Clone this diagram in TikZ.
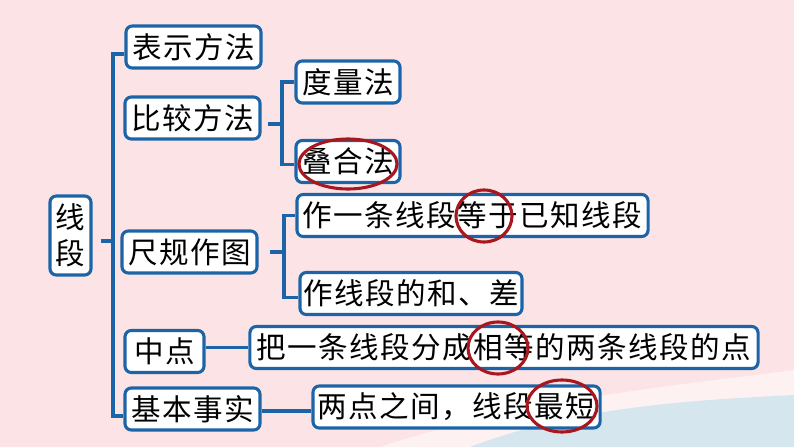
\documentclass[tikz,border=0pt]{standalone}
\usepackage{fontspec}
\newfontfamily\cjk[LetterSpace=5]{Noto Sans CJK SC}
\usepackage{tikz}
\usetikzlibrary{calc}
\definecolor{Paper}   {RGB}{252, 228, 230}
\definecolor{Sea}     {RGB}{214, 230, 238}
\definecolor{Edge}    {RGB}{ 28, 100, 168}
\definecolor{Crimson} {RGB}{168,  22,  30}

\begin{document}
\begin{tikzpicture}[x=0.025cm, y=-0.025cm,
  box/.style  = {draw=Edge, fill=white, line width=2.2pt,
                 rounded corners=4.5pt, inner sep=1pt,
                 minimum height=1.05cm,
                 font=\cjk\fontsize{21pt}{26pt}\selectfont},
  link/.style = {draw=Edge, line width=2.2pt},
  ring/.style = {draw=Crimson, line width=2.2pt}
]
  %% background
  \fill[Paper] (0,0) rectangle (794,447);
  \fill[white, opacity=0.5]
    (380,447) .. controls (520,400) and (680,385) .. (794,370)
    -- (794,447) -- cycle;
  \fill[Sea]
    (470,447) .. controls (580,405) and (700,400) .. (794,395)
    -- (794,447) -- cycle;

  %% root
  \node[box, minimum width=1.025cm, minimum height=1.975cm, align=center]
    (seg) at (70.5,235.5) {线\\段};

  %% first level
  \node[box, minimum width=3.375cm] (rep)  at (193.5,47)  {表示方法};
  \node[box, minimum width=3.375cm] (cmp)  at (192.5,118) {比较方法};
  \node[box, minimum width=3.375cm] (cons) at (189.5,252) {尺规作图};
  \node[box, minimum width=1.975cm] (mid)  at (164.5,351.5) {中点};
  \node[box, minimum width=3.375cm] (fact) at (192.5,409) {基本事实};

  %% second level
  \node[box, minimum width=2.6cm]   (meas)   at (348,82)      {度量法};
  \node[box, minimum width=2.6cm]   (over)   at (348,161.5)   {叠合法};
  \node[box, minimum width=8.775cm] (copy)   at (472.5,215.5) {作一条线段等于已知线段};
  \node[box, minimum width=5.55cm]  (sumd)   at (411,293.5)   {作线段的和、差};
  \node[box, minimum width=12.7cm]  (middef) at (504,347.5)   {把一条线段分成相等的两条线段的点};
  \node[box, minimum width=7.175cm] (short)  at (456.5,407)   {两点之间，线段最短};

  %% trunk
  \coordinate (trunk) at (113,241);
  \draw[link, shorten <=0.2cm] (seg.east |- trunk) -- (trunk);
  \draw[link] ([yshift=-0.175cm]rep.west) -| (trunk)
              |- ([yshift=-0.175cm]fact.west);

  %% branches
  \coordinate (cj) at (282,124);
  \draw[link, shorten <=0.15cm] (cmp.east |- cj) -- (cj);
  \draw[link] (meas.west) -| (cj) |- ([yshift=-0.08cm]over.west);

  \coordinate (kj) at (284,252);
  \draw[link, shorten <=0.275cm] (cons.east |- kj) -- (kj);
  \draw[link] (copy.west) -| (kj) |- ([yshift=-0.09cm]sumd.west);

  \draw[link] (mid.east |- middef.west) -- (middef.west);
  \draw[link] (fact.east |- 0,411) -- (short.west |- 0,411);

  %% key words
  \draw[ring] (348,164) ellipse [x radius=1.225cm, y radius=0.625cm];
  \draw[ring] (484,216) ellipse [x radius=0.7cm,   y radius=0.65cm];
  \draw[ring] (498,348) ellipse [x radius=0.75cm,  y radius=0.65cm];
  \draw[ring] (562,406) ellipse [x radius=0.875cm, y radius=0.65cm];
\end{tikzpicture}
\end{document}
